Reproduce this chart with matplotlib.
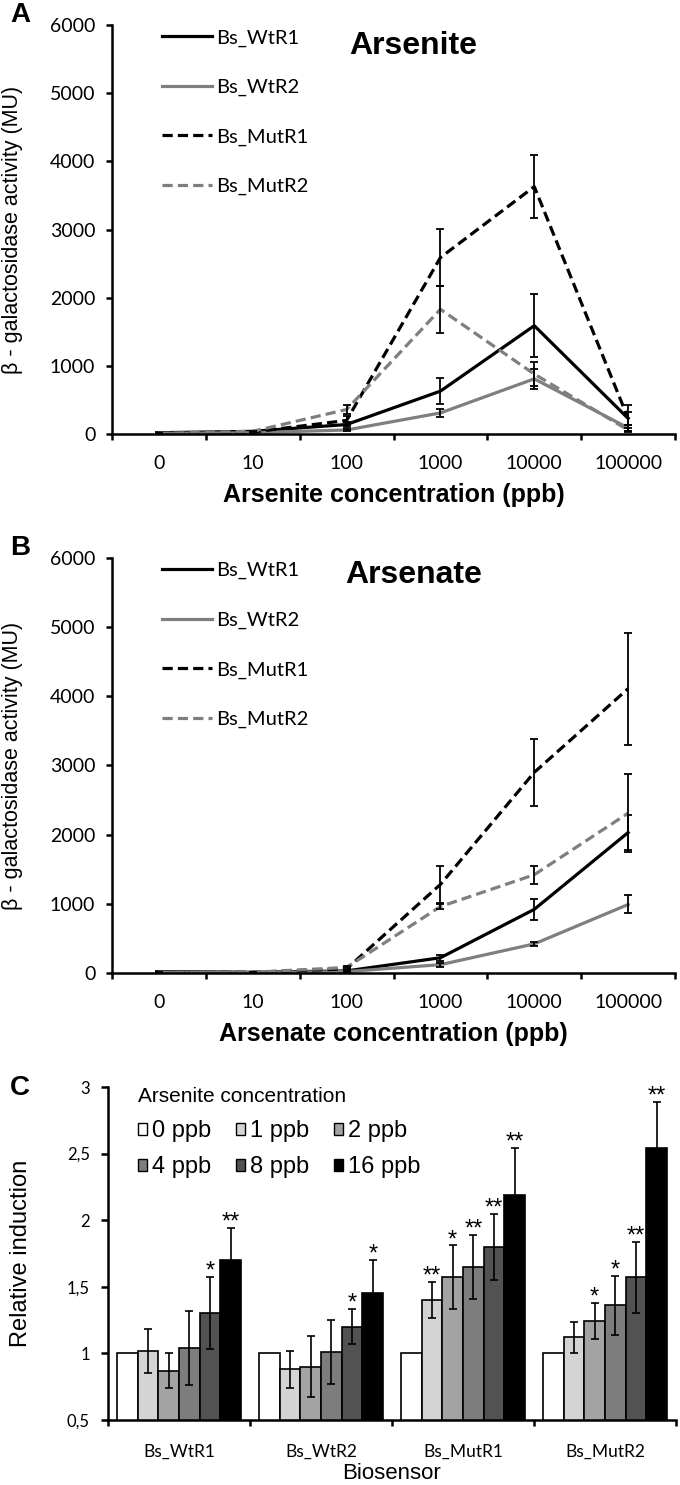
import numpy as np
import matplotlib
matplotlib.use('Agg')
import matplotlib.pyplot as plt
from matplotlib.patches import Patch

# data
conc = ['0', '10', '100', '1000', '10000', '100000']
strains = ['Bs_WtR1', 'Bs_WtR2', 'Bs_MutR1', 'Bs_MutR2']

# A - arsenite
A_wt1 = [20, 40, 140, 630, 1590, 230]
A_wt1_err = [5, 10, 40, 190, 460, 90]
A_wt2 = [10, 20, 60, 310, 810, 90]
A_wt2_err = [5, 5, 15, 60, 150, 40]
A_mut1 = [10, 30, 200, 2590, 3630, 230]
A_mut1_err = [5, 10, 60, 420, 460, 190]
A_mut2 = [10, 40, 360, 1830, 880, 60]
A_mut2_err = [5, 10, 70, 340, 170, 30]

# B - arsenate
B_wt1 = [20, 10, 30, 220, 920, 2030]
B_wt1_err = [5, 5, 10, 40, 150, 250]
B_wt2 = [10, 5, 20, 120, 420, 990]
B_wt2_err = [5, 5, 5, 30, 30, 130]
B_mut1 = [10, 10, 60, 1280, 2900, 4110]
B_mut1_err = [5, 5, 15, 270, 480, 810]
B_mut2 = [10, 10, 80, 960, 1420, 2310]
B_mut2_err = [5, 5, 15, 40, 130, 560]

# C - relative induction
doses = ['0 ppb', '1 ppb', '2 ppb', '4 ppb', '8 ppb', '16 ppb']
C_vals = [
    [1.0, 1.02, 0.87, 1.04, 1.30, 1.70],
    [1.0, 0.88, 0.90, 1.01, 1.20, 1.45],
    [1.0, 1.40, 1.57, 1.65, 1.80, 2.19],
    [1.0, 1.12, 1.24, 1.36, 1.57, 2.54],
]
C_err = [
    [0, 0.165, 0.13, 0.28, 0.27, 0.24],
    [0, 0.14, 0.23, 0.24, 0.13, 0.25],
    [0, 0.135, 0.24, 0.24, 0.25, 0.35],
    [0, 0.115, 0.135, 0.22, 0.27, 0.35],
]
C_stars = [
    ['', '', '', '', '*', '**'],
    ['', '', '', '', '*', '*'],
    ['', '**', '*', '**', '**', '**'],
    ['', '', '*', '*', '**', '**'],
]

tick_font = 'Lato'
arial = 'Liberation Sans'
gray = '#7f7f7f'
dash = (0, (3.2, 1.6))

fig = plt.figure(figsize=(6.8, 14.85), dpi=100)


def line_panel(ax, series, title, xlabel, title_y):
    x = np.arange(len(conc))
    styles = [('black', '-'), (gray, '-'), ('black', dash), (gray, dash)]
    for (vals, errs), (col, ls), name in zip(series, styles, strains):
        ax.plot(x, vals, color=col, linestyle=ls, lw=2.3, label=name)
        ax.errorbar(x, vals, yerr=errs, fmt='none', ecolor='black',
                    elinewidth=1.3, capsize=3, capthick=1.3)
    ax.set_xlim(-0.5, 5.5)
    ax.set_ylim(0, 6000)
    ax.set_yticks(range(0, 6001, 1000))
    ax.set_xticks(x)
    ax.set_xticklabels(conc, fontfamily=tick_font, fontsize=14)
    ax.set_xticks(np.arange(-0.5, 6, 1), minor=True)
    ax.tick_params(axis='x', which='major', length=0, pad=15)
    ax.tick_params(axis='x', which='minor', length=4, width=1.8, direction='out')
    ax.tick_params(axis='y', length=4, width=1.8, pad=8)
    for lab in ax.get_yticklabels():
        lab.set_fontfamily(tick_font)
        lab.set_fontsize(14)
    for s in ['top', 'right']:
        ax.spines[s].set_visible(False)
    for s in ['left', 'bottom']:
        ax.spines[s].set_linewidth(1.8)
    ax.set_ylabel('\u03b2 - galactosidase activity (MU)', fontfamily=arial, fontsize=15.5)
    ax.yaxis.set_label_coords(-0.158, 0.5)
    ax.set_xlabel(xlabel, fontfamily=arial, fontsize=18, fontweight='bold')
    ax.xaxis.set_label_coords(0.5, -0.148)
    ax.xaxis.label.set_va('center')
    ax.text(0.535, title_y, title, transform=ax.transAxes, ha='center', va='center',
            fontfamily=arial, fontsize=23, fontweight='bold')
    ax.legend(loc='upper left', bbox_to_anchor=(0.089, 0.99), frameon=False,
              prop={'family': tick_font, 'size': 14.5}, handlelength=2.5,
              handletextpad=0.2, labelspacing=1.6, borderpad=0, borderaxespad=0)


axA = fig.add_axes([0.1647, 0.7077, 0.828, 0.2754])
line_panel(axA, [(A_wt1, A_wt1_err), (A_wt2, A_wt2_err), (A_mut1, A_mut1_err), (A_mut2, A_mut2_err)],
           'Arsenite', 'Arsenite concentration (ppb)', 0.95)

axB = fig.add_axes([0.1647, 0.3448, 0.828, 0.2795])
line_panel(axB, [(B_wt1, B_wt1_err), (B_wt2, B_wt2_err), (B_mut1, B_mut1_err), (B_mut2, B_mut2_err)],
           'Arsenate', 'Arsenate concentration (ppb)', 0.96)

# C - bars
axC = fig.add_axes([0.1588, 0.0438, 0.8353, 0.2242])
colors = ['white', '#d4d4d4', '#a3a3a3', '#7d7d7d', '#525252', 'black']
bw = 0.146
gx = np.arange(len(strains))
handles = []
for j in range(len(doses)):
    xs = gx + (j - 2.5) * bw
    vals = [C_vals[i][j] for i in range(len(strains))]
    errs = [C_err[i][j] for i in range(len(strains))]
    axC.bar(xs, vals, width=bw, color=colors[j], edgecolor='black', linewidth=1.2)
    if j > 0:
        axC.errorbar(xs, vals, yerr=errs, fmt='none', ecolor='black',
                     elinewidth=1.2, capsize=3, capthick=1.2)
    for i in range(len(strains)):
        if C_stars[i][j]:
            axC.annotate(C_stars[i][j], (xs[i], vals[i] + errs[i]), xytext=(0, -4),
                         textcoords='offset points', ha='center', va='bottom',
                         fontfamily=arial, fontsize=17)
    handles.append(Patch(facecolor=colors[j], edgecolor='black', linewidth=1, label=doses[j]))

axC.set_xlim(-0.5, 3.5)
axC.set_ylim(0.5, 3)
axC.set_yticks([0.5, 1, 1.5, 2, 2.5, 3])
axC.set_yticklabels(['0,5', '1', '1,5', '2', '2,5', '3'], fontfamily=tick_font, fontsize=12)
axC.set_xticks(gx)
axC.set_xticklabels(strains, fontfamily=tick_font, fontsize=12.5)
axC.set_xticks(np.arange(-0.5, 4, 1), minor=True)
axC.tick_params(axis='x', which='major', length=0, pad=17)
axC.tick_params(axis='x', which='minor', length=4, width=1.8, direction='out')
axC.tick_params(axis='y', length=5, width=1.8, pad=8)
for s in ['top', 'right']:
    axC.spines[s].set_visible(False)
for s in ['left', 'bottom']:
    axC.spines[s].set_linewidth(1.8)
axC.set_ylabel('Relative induction', fontfamily=arial, fontsize=17)
axC.yaxis.set_label_coords(-0.133, 0.5)
axC.set_xlabel('Biosensor', fontfamily=arial, fontsize=16)
axC.xaxis.set_label_coords(0.5, -0.162)
axC.xaxis.label.set_va('center')

order = [0, 3, 1, 4, 2, 5]
axC.legend(handles=[handles[k] for k in order], ncol=3, loc='upper left',
           bbox_to_anchor=(0.052, 1.0), frameon=False, title='Arsenite concentration',
           alignment='left', prop={'family': arial, 'size': 17},
           title_fontproperties={'family': arial, 'size': 15},
           handlelength=0.4, handleheight=0.4, handletextpad=0.2,
           columnspacing=1.05, labelspacing=0.6, borderpad=0, borderaxespad=0)

for lab, y in [('A', 15), ('B', 548), ('C', 1088)]:
    fig.text(10 / 680, 1 - y / 1485, lab, ha='left', va='center',
             fontfamily=arial, fontsize=20, fontweight='bold')

fig.savefig('out.png', dpi=100)
